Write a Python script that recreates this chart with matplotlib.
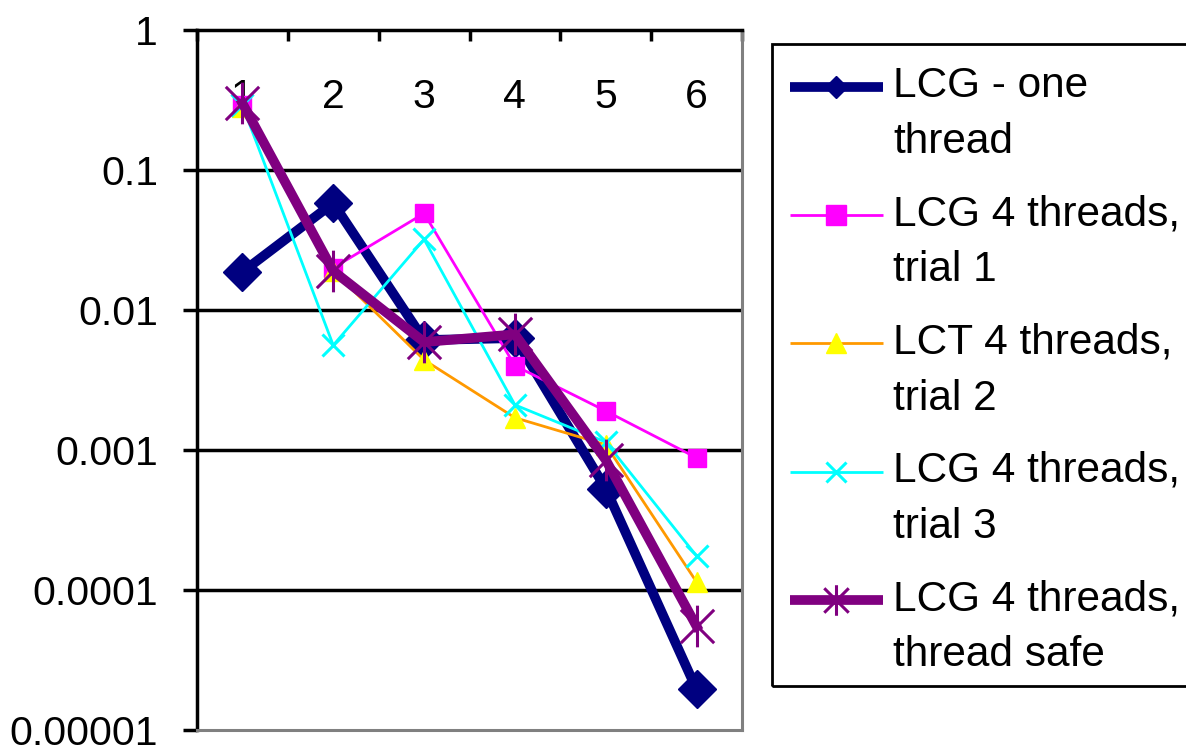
import numpy as np
import matplotlib
matplotlib.use('Agg')
import matplotlib.pyplot as plt
from matplotlib.path import Path
from matplotlib.patches import Rectangle
from matplotlib.legend_handler import HandlerLine2D
from matplotlib.ticker import FixedLocator, FixedFormatter, NullLocator
from matplotlib import transforms

plt.rcParams['font.family'] = ['Liberation Sans', 'DejaVu Sans']

# data (log scale)
categories = ['1', '2', '3', '4', '5', '6']
lcg_one = [0.0187, 0.058, 0.0061, 0.0063, 0.00053, 0.0000195]
lcg_trial1 = [0.29, 0.020, 0.049, 0.0040, 0.0019, 0.00088]
lct_trial2 = [0.28, 0.019, 0.0044, 0.0017, 0.00109, 0.000114]
lcg_trial3 = [0.29, 0.0056, 0.032, 0.0021, 0.00114, 0.000175]
lcg_safe = [0.30, 0.019, 0.0059, 0.0067, 0.00085, 0.000055]

y_ticks = [0.00001, 0.0001, 0.001, 0.01, 0.1, 1]
y_labels = ['0.00001', '0.0001', '0.001', '0.01', '0.1', '1']

labels = ['LCG - one\nthread', 'LCG 4 threads,\ntrial 1', 'LCT 4 threads,\ntrial 2',
          'LCG 4 threads,\ntrial 3', 'LCG 4 threads,\nthread safe']

# asterisk marker like Excel's star (x plus vertical bar)
star = Path([(-1, -1), (1, 1), (-1, 1), (1, -1), (0, -1.25), (0, 1.25)],
            [Path.MOVETO, Path.LINETO, Path.MOVETO, Path.LINETO, Path.MOVETO, Path.LINETO])


class FirstLineHandler(HandlerLine2D):
    # put the legend sample next to the first line of a two-line label
    def __init__(self, shift, **kw):
        super().__init__(**kw)
        self.shift = shift

    def create_artists(self, legend, orig_handle, xdescent, ydescent, width, height, fontsize, trans):
        arts = super().create_artists(legend, orig_handle, xdescent, ydescent,
                                      width, height, fontsize, trans)
        for a in arts:
            a.set_ydata(np.asarray(a.get_ydata()) + self.shift)
            a.set_solid_capstyle('butt')
        return arts


fig = plt.figure(figsize=(11.86, 7.52), dpi=100)
ax = fig.add_axes([197/1186, 1-730/752, 545/1186, 700/752])

x = np.arange(1, len(categories) + 1)
FS = 29.5
LFS = 30.5

h1, = ax.plot(x, lcg_one, color='#000080', lw=7, marker='D', ms=19,
              mfc='#000080', mec='#000080', solid_joinstyle='miter', zorder=3)
h2, = ax.plot(x, lcg_trial1, color='#FF00FF', lw=2, marker='s', ms=13,
              mfc='#FF00FF', mec='#FF00FF', zorder=4)
h3, = ax.plot(x, lct_trial2, color='#FF9900', lw=2, marker='^', ms=15,
              mfc='#FFFF00', mec='#FFFF00', zorder=5)
h4, = ax.plot(x, lcg_trial3, color='#00FFFF', lw=2, marker='x', ms=16, mew=2.2,
              mec='#00FFFF', zorder=6)
h5, = ax.plot(x, lcg_safe, color='#800080', lw=7, marker=star, ms=30, mew=2.2,
              mfc='none', mec='#800080', zorder=7)

ax.set_yscale('log')
ax.set_ylim(1e-5, 1)
ax.set_xlim(0.5, 6.5)
ax.yaxis.set_major_locator(FixedLocator(y_ticks))
ax.yaxis.set_major_formatter(FixedFormatter(y_labels))
ax.yaxis.set_minor_locator(NullLocator())
ax.tick_params(axis='y', direction='out', length=10, width=2.5, labelsize=FS, pad=18)

# category axis sits at y=1 (top), ticks between categories
ax.xaxis.tick_top()
ax.set_xticks(np.arange(0.5, 6.6, 1))
ax.set_xticklabels([])
ax.tick_params(axis='x', direction='in', length=8, width=2.5)
trans = transforms.blended_transform_factory(ax.transData, ax.transAxes)
for xi, c in zip(x, categories):
    ax.text(xi, 0.905, c, transform=trans, ha='center', va='center', fontsize=FS, zorder=2)

for yv in y_ticks[1:-1]:
    ax.axhline(yv, color='black', lw=2.5, zorder=1)

ax.spines['left'].set_color('black')
ax.spines['left'].set_linewidth(2.5)
ax.spines['top'].set_color('black')
ax.spines['top'].set_linewidth(2.5)
ax.spines['right'].set_color('#808080')
ax.spines['right'].set_linewidth(2.2)
ax.spines['bottom'].set_color('#808080')
ax.spines['bottom'].set_linewidth(2.2)

# legend frame runs off the right edge like in the original
fig.patches.append(Rectangle((772/1186, 1-686/752), 430/1186, 642/752,
                             transform=fig.transFigure, fill=False,
                             edgecolor='black', lw=2, zorder=1))

handler = FirstLineHandler(shift=20)
leg = ax.legend([h1, h2, h3, h4, h5], labels, loc='upper left',
                bbox_to_anchor=(772/1186, 1-48/752), bbox_transform=fig.transFigure,
                fontsize=LFS, frameon=False,
                handlelength=2.2, handletextpad=0.24, borderpad=0.42,
                labelspacing=0.76, borderaxespad=0,
                handler_map={h: handler for h in [h1, h2, h3, h4, h5]})
for t in leg.get_texts():
    t.set_linespacing(1.52)
for hdl, ms in zip(leg.legend_handles, [11.5, 14, 15, 14, 22]):
    hdl.set_markersize(ms)

plt.savefig('out.png', dpi=100)
